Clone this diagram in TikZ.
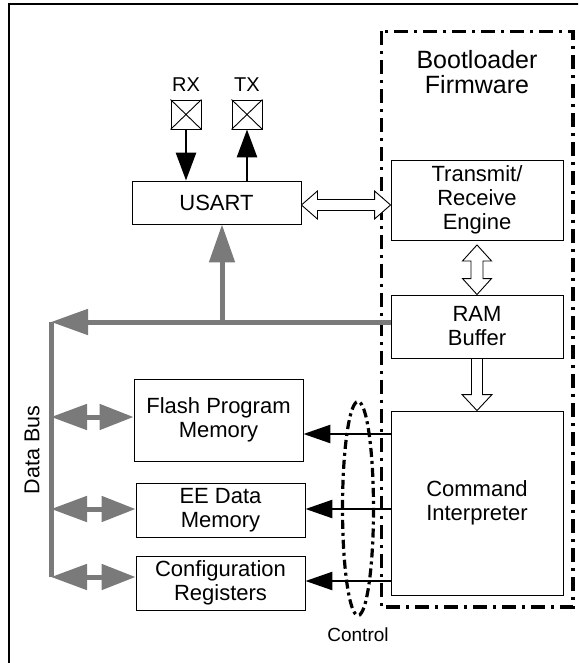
\documentclass[tikz,border=0pt]{standalone}
\usepackage{fontspec}
\setmainfont{Liberation Sans}
\usetikzlibrary{arrows.meta,calc}
\definecolor{busgray}{RGB}{122,122,122}
\begin{document}
\begin{tikzpicture}[x=1pt,y=-1pt,
  box/.style={draw, line width=0.9pt, inner sep=0pt, align=center,
    font=\fontsize{22}{24}\selectfont},
  iopad/.style={draw, line width=0.9pt, inner sep=0pt, minimum width=30pt, minimum height=29pt},
  lbl/.style={inner sep=0pt, align=center},
  busline/.style={line width=5pt, busgray},
  ctrl/.style={line width=2.6pt, black, -{Triangle[length=27pt,width=18pt]}},
  pinarrow/.style={line width=2.8pt, black, -{Triangle[length=28pt,width=20pt]}},
  outl/.style={draw=black, line width=0.9pt, fill=white, line join=miter},
  dashdot/.style={line width=3.6pt, dash pattern=on 14pt off 6pt on 3pt off 6pt},
  ovaldash/.style={line width=3.2pt, dash pattern=on 9pt off 4pt on 3pt off 4pt}
]
\clip (0,0) rectangle (578,663);
% outer frame (right and bottom sides lie outside the picture)
\draw[line width=2.4pt] (9,4.3) rectangle (700,800);

% bootloader firmware region
\draw[dashdot] (381.5,31.5) rectangle (573,607);
\node[lbl, font=\fontsize{25}{25}\selectfont] (bf) at (477,72) {Bootloader\\Firmware};

% blocks
\node[box, minimum width=169pt, minimum height=43pt] (usart) at (216.5,202.5) {USART};
\node[box, minimum width=172pt, minimum height=80pt] (tre) at (477,200) {Transmit/\\Receive\\Engine};
\node[box, minimum width=172pt, minimum height=63pt] (ram) at (477,326.5) {RAM\\Buffer};
\node[box, minimum width=172pt, minimum height=184pt] (ci) at (477,503) {Command\\Interpreter};
\node[box, minimum width=169pt, minimum height=82pt] (flash) at (218.5,420) {Flash Program\\Memory};
\node[box, minimum width=169pt, minimum height=54pt] (ee) at (220.5,510) {EE Data\\Memory};
\node[box, minimum width=169pt, minimum height=54pt] (cfg) at (220.5,583) {Configuration\\Registers};

% pins
\node[iopad] (rx) at (186,114.5) {};
\node[iopad] (tx) at (247,114.5) {};
\draw[line width=0.9pt] (rx.north west) -- (rx.south east) (rx.north east) -- (rx.south west);
\draw[line width=0.9pt] (tx.north west) -- (tx.south east) (tx.north east) -- (tx.south west);
\node[lbl, font=\fontsize{20}{22}\selectfont] (rxl) at (186,85) {RX};
\node[lbl, font=\fontsize{20}{22}\selectfont] (txl) at (247,85) {TX};
\draw[pinarrow] (rx.south) -- (rx.south |- usart.north);
\draw[pinarrow] (tx.south |- usart.north) -- (tx.south);

% outline arrows
\path (usart.east) ++(0,2.5) coordinate (ha);
\coordinate (hb) at (tre.west |- ha);
\draw[outl] (ha) -- ++(16,-14) -- ++(0,8.5) -- ($(hb)+(-16,-5.5)$) -- ++(0,-8.5) -- (hb)
  -- ++(-16,14) -- ++(0,-8.5) -- ($(ha)+(16,5.5)$) -- ++(0,8.5) -- cycle;
\path (tre.south) ++(0,4.5) coordinate (va);
\coordinate (vb) at (ram.north);
\draw[outl] (va) -- ++(14.5,16) -- ++(-8.5,0) -- ($(vb)+(6,-16)$) -- ++(8.5,0) -- (vb)
  -- ++(-14.5,-16) -- ++(8.5,0) -- ($(va)+(-6,16)$) -- ++(-8.5,0) -- cycle;
\coordinate (sa) at (ram.south);
\coordinate (sb) at (ci.north);
\draw[outl] ($(sa)+(-5.5,0)$) -- ($(sb)+(-5.5,-16)$) -- ++(-9.5,0) -- (sb) -- ++(15,-16)
  -- ++(-9.5,0) -- ($(sa)+(5.5,0)$) -- cycle;

% data bus
\coordinate (bt) at (51,322);
\coordinate (bb) at (51,577);
\coordinate (bu) at (222,322);
\coordinate (b1) at (51,417);
\coordinate (b2) at (51,509);
\draw[busline] (bt) -- (bb);
\draw[busline, -{Triangle[length=37pt,width=25pt]}] (ram.west |- bt) -- (bt);
\draw[busline, -{Triangle[length=38pt,width=25pt]}] (bu) -- (bu |- usart.south);
\draw[busline, {Triangle[length=36pt,width=25pt]}-{Triangle[length=34pt,width=25pt]}] (b1) -- (b1 -| flash.west);
\draw[busline, {Triangle[length=36pt,width=25pt]}-{Triangle[length=34pt,width=25pt]}] (b2) -- (b2 -| ee.west);
\draw[busline, {Triangle[length=36pt,width=25pt]}-{Triangle[length=34pt,width=25pt]}] (bb) -- (bb -| cfg.west);
\node[lbl, rotate=90, font=\fontsize{21.5}{24}\selectfont] (db) at (32,450) {Data Bus};

% control
\draw[ovaldash] (358,508.5) ellipse [x radius=15.5, y radius=107];
\path (ci.west) ++(0,-69) coordinate (c1);
\path (ci.west) ++(0,6) coordinate (c2);
\path (ci.west) ++(0,78) coordinate (c3);
\draw[ctrl] (c1) -- (c1 -| flash.east);
\draw[ctrl] (c2) -- (c2 -| ee.east);
\draw[ctrl] (c3) -- (c3 -| cfg.east);
\node[lbl, font=\fontsize{19}{20}\selectfont] (ctl) at (358,635) {Control};
\end{tikzpicture}
\end{document}
